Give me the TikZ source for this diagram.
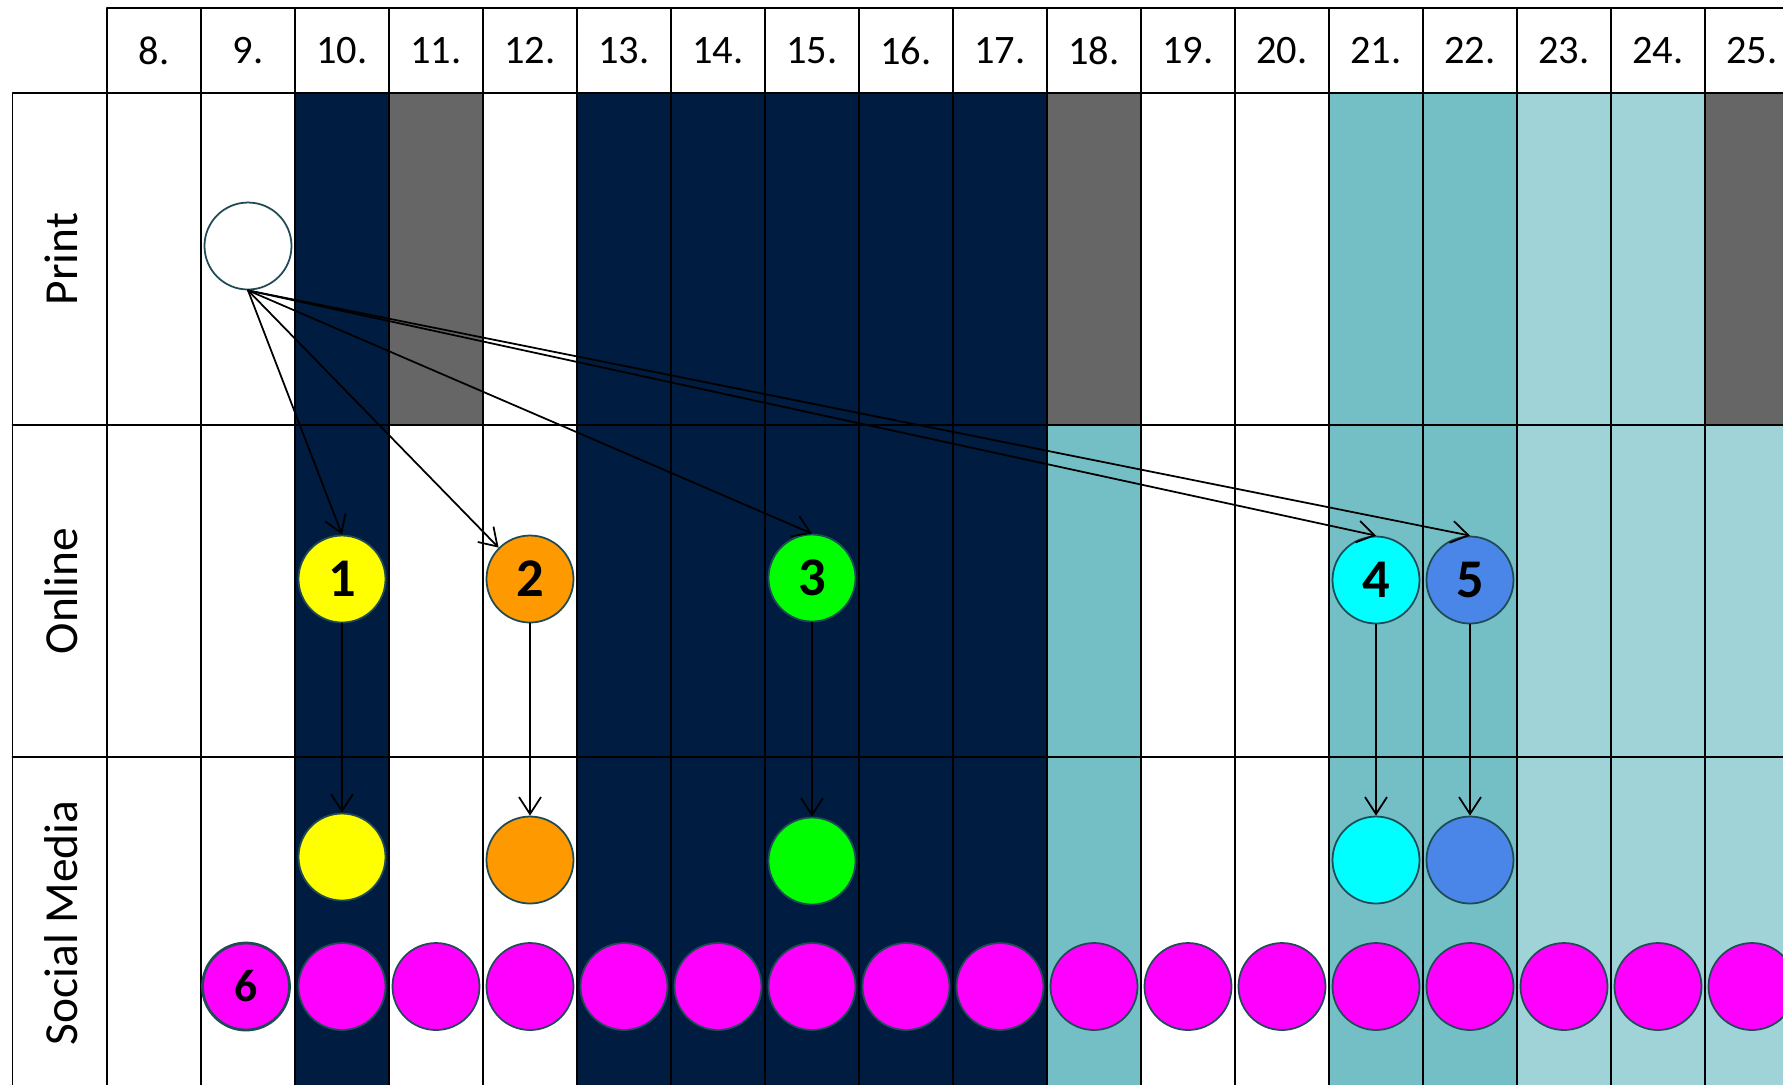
\documentclass[tikz,border=0pt]{standalone}
\usepackage{fontspec}
\setmainfont{Carlito}
\usetikzlibrary{arrows.meta}

\definecolor{navy}{HTML}{001C40}
\definecolor{slate}{HTML}{666666}
\definecolor{tealA}{HTML}{73BFC5}
\definecolor{tealB}{HTML}{A0D3D8}
\definecolor{rim}{HTML}{1F4B55}
\definecolor{cyellow}{HTML}{FFFF00}
\definecolor{corange}{HTML}{FF9900}
\definecolor{cgreen}{HTML}{00FF00}
\definecolor{ccyan}{HTML}{00FFFF}
\definecolor{cblue}{HTML}{4A86E8}
\definecolor{cmagenta}{HTML}{FF00FF}

\tikzset{
  grid/.style={draw=black, line width=0.55pt},
  head/.style={font=\fontsize{11.5}{13}\selectfont},
  side/.style={rotate=90, font=\fontsize{13.5}{16}\selectfont},
  dot/.style={circle, draw=rim, line width=0.5pt, minimum size=8.7mm, inner sep=0pt,
    font=\fontsize{15.5}{18}\selectfont\bfseries},
  flow/.style={-{Straight Barb[length=1.7mm,width=2.2mm]}, line width=0.5pt},
}

\begin{document}
\begin{tikzpicture}[line join=round, line cap=round]
  \useasboundingbox (0,0) rectangle (17.83,-10.84);
  \clip (0,0) rectangle (17.83,-10.84);

  % columns: day / print / online / social media
  \foreach \d/\p/\o/\s in {8/white/white/white, 9/white/white/white,
      10/navy/navy/navy, 11/slate/white/white, 12/white/white/white,
      13/navy/navy/navy, 14/navy/navy/navy, 15/navy/navy/navy,
      16/navy/navy/navy, 17/navy/navy/navy, 18/slate/tealA/tealA,
      19/white/white/white, 20/white/white/white, 21/tealA/tealA/tealA,
      22/tealA/tealA/tealA, 23/tealB/tealB/tealB, 24/tealB/tealB/tealB,
      25/slate/tealB/tealB}{
    \pgfmathsetmacro\xl{1.07+(\d-8)*0.94}
    \fill[\p] (\xl,-0.93) rectangle ++(0.94,-3.32);
    \fill[\o] (\xl,-4.25) rectangle ++(0.94,-3.32);
    \fill[\s] (\xl,-7.57) rectangle ++(0.94,-3.32);
    \draw[grid] (\xl,-0.08) rectangle ++(0.94,-0.85);
    \node[head] (h\d) at (\xl+0.47,-0.505) {\d.};
    \draw[grid] (\xl,-0.93) -- (\xl,-10.89);
  }

  % rows
  \draw[grid] (0.125,-0.93) rectangle (18.5,-10.89);
  \draw[grid] (0.125,-4.25) -- (18.5,-4.25);
  \draw[grid] (0.125,-7.57) -- (18.5,-7.57);
  \node[side] (lp) at (0.61,-2.59) {Print};
  \node[side] (lo) at (0.61,-5.91) {Online};
  \node[side] (ls) at (0.61,-9.23) {Social Media};

  % circles
  \node[dot, fill=white] (P) at (2.48,-2.46) {};

  \node[dot, fill=cyellow] (O1) at (3.42,-5.79) {1};
  \node[dot, fill=corange] (O2) at (5.30,-5.79) {2};
  \node[dot, fill=cgreen]  (O3) at (8.12,-5.78) {3};
  \node[dot, fill=ccyan]   (O4) at (13.76,-5.80) {4};
  \node[dot, fill=cblue]   (O5) at (14.70,-5.80) {5};

  \node[dot, fill=cyellow] (S1) at (3.42,-8.57) {};
  \node[dot, fill=corange] (S2) at (5.30,-8.60) {};
  \node[dot, fill=cgreen]  (S3) at (8.12,-8.61) {};
  \node[dot, fill=ccyan]   (S4) at (13.76,-8.60) {};
  \node[dot, fill=cblue]   (S5) at (14.70,-8.60) {};

  \node[dot, fill=cmagenta, line width=0.8pt, font=\fontsize{13}{15}\selectfont\bfseries]
    (M9) at (2.46,-9.865) {6};
  \foreach \d in {10,...,25}
    \node[dot, fill=cmagenta] (M\d) at ({1.54+(\d-8)*0.94},-9.865) {};

  % arrows
  \draw[flow] (P.south) -- (O1.north);
  \draw[flow] (P.south) -- (O2.north west);
  \draw[flow] (P.south) -- (O3.north);
  \draw[flow] (P.south) -- (O4.north);
  \draw[flow] (P.south) -- (O5.north);
  \foreach \n in {1,...,5}
    \draw[flow] (O\n.south) -- (S\n.north);
\end{tikzpicture}
\end{document}
